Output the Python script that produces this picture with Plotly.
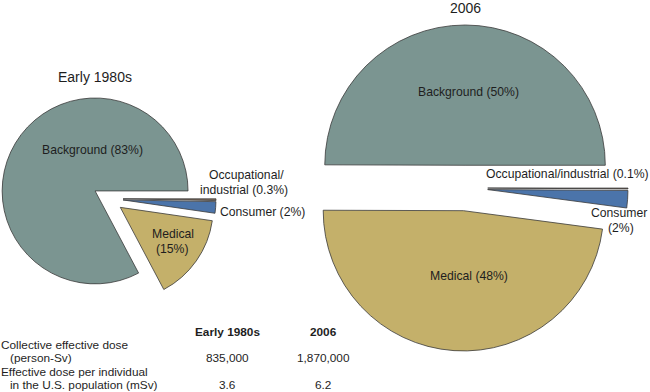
import plotly.graph_objects as go

# ---- data ----
categories = ["Background", "Medical", "Consumer", "Occupational/industrial"]
values_1980s = [83, 15, 2, 0.3]
values_2006 = [50, 48, 2, 0.1]
colors = ["#7b9591", "#c4b06a", "#4b74aa", "#7d6b5c"]

table_cols = ["Early 1980s", "2006"]
table_rows = [["Collective effective dose", "(person-Sv)"],
              ["Effective dose per individual", "in the U.S. population (mSv)"]]
collective_dose = ["835,000", "1,870,000"]
dose_per_individual = ["3.6", "6.2"]

W, H = 650, 392
FONT = "Liberation Sans, Arial, Helvetica, sans-serif"
TXT = "#1e1e1e"
FS = 12.2
FT = 11.8
pull = 0.162

fig = go.Figure()


def px_domain(x0, x1, y0, y1):
    return dict(x=[x0 / W, x1 / W], y=[(H - y1) / H, (H - y0) / H])


# slices listed in reverse and drawn clockwise from 3 o'clock, so that
# Background runs counterclockwise from 3 o'clock as in the reference
def pie(values, domain):
    return go.Pie(
        labels=categories[::-1], values=values[::-1], sort=False,
        direction="clockwise", rotation=90,
        pull=[pull] * len(values), textinfo="none", hoverinfo="label+value",
        marker=dict(colors=colors[::-1], line=dict(color="#3a3a3a", width=0.8)),
        domain=domain, showlegend=False,
    )


fig.add_trace(pie(values_1980s, px_domain(0, 216, 198.7 - 125, 198.7 + 125)))
fig.add_trace(pie(values_2006, px_domain(302, 628, 188 - 170, 188 + 170)))

ann = []


def txt(x, y, s, size=FS, anchor="center", bold=False):
    ann.append(dict(x=x / W, y=(H - y) / H, xref="paper", yref="paper",
                    text=(f"<b>{s}</b>" if bold else s), showarrow=False,
                    xanchor=anchor, yanchor="middle", borderpad=0,
                    font=dict(family=FONT, size=size, color=TXT)))


# titles
txt(95, 77, "Early 1980s", size=14)
txt(465, 8, "2006", size=14)

# left pie labels
txt(92, 150, f"{categories[0]} ({values_1980s[0]}%)")
txt(173, 234, categories[1])
txt(173, 249, f"({values_1980s[1]}%)")
txt(246, 175, "Occupational/")
txt(244, 189.5, f"industrial ({values_1980s[3]}%)")
txt(219, 212, f"{categories[2]} ({values_1980s[2]}%)", anchor="left")

# right pie labels
txt(468, 92, f"{categories[0]} ({values_2006[0]}%)")
txt(469, 276, f"{categories[1]} ({values_2006[1]}%)")
txt(485, 174, f"{categories[3]} ({values_2006[3]}%)", anchor="left")
txt(619, 213, categories[2])
txt(621, 228, f"({values_2006[2]}%)")

# table
txt(227, 332, table_cols[0], size=FT, bold=True)
txt(323, 332, table_cols[1], size=FT, bold=True)
txt(0, 344.5, table_rows[0][0], size=FT, anchor="left")
txt(9, 358, table_rows[0][1], size=FT, anchor="left")
txt(0, 371.5, table_rows[1][0], size=FT, anchor="left")
txt(9, 385, table_rows[1][1], size=FT, anchor="left")
txt(227, 358, collective_dose[0], size=FT)
txt(323, 358, collective_dose[1], size=FT)
txt(227, 385, dose_per_individual[0], size=FT)
txt(323, 385, dose_per_individual[1], size=FT)

fig.update_layout(
    width=W, height=H, margin=dict(l=0, r=0, t=0, b=0),
    paper_bgcolor="white", plot_bgcolor="white",
    annotations=ann, showlegend=False,
    font=dict(family=FONT, color=TXT),
)

fig.write_html("out.html", config={"displayModeBar": False},
               post_script="document.body.style.margin='0';document.body.style.overflow='hidden';")
